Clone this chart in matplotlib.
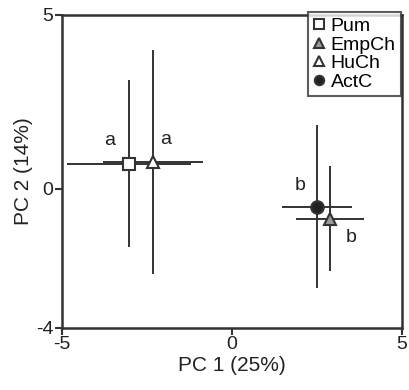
import matplotlib.pyplot as plt

plt.rcParams['font.family'] = ['Liberation Sans', 'DejaVu Sans']
plt.rcParams['axes.unicode_minus'] = False

# group names, PC scores and error ranges
grupos = ["Pum", "EmpCh", "HuCh", "ActC"]
pc1 = [-3.03, 2.88, -2.32, 2.50]
pc2 = [0.72, -0.86, 0.78, -0.52]
err1 = [1.82, 1.00, 1.47, 1.03]
err2 = [2.40, 1.51, 3.22, 2.34]
marcadores = ["s", "^", "^", "o"]
rellenos = ["white", "#9a9a9a", "white", "#222222"]

# significance letters
letras = ["a", "a", "b", "b"]
letras_x = [-3.6, -1.95, 2.0, 3.5]
letras_y = [1.38, 1.42, 0.1, -1.4]

gris = "#333333"
fig = plt.figure(figsize=(4.1, 3.9), dpi=100)
ax = fig.add_axes([0.151, 0.159, 0.829, 0.803])

orden = [0, 2, 3, 1]
for i in orden:
    ax.errorbar(pc1[i], pc2[i], xerr=err1[i], yerr=err2[i], fmt="none",
                ecolor=gris, elinewidth=1.4, capsize=0, zorder=2)
for i in orden:
    ax.plot(pc1[i], pc2[i], marker=marcadores[i], markersize=9,
            markerfacecolor=rellenos[i], markeredgecolor=gris,
            markeredgewidth=1.5, linestyle="none", label=grupos[i], zorder=3)

for t, x, y in zip(letras, letras_x, letras_y):
    ax.text(x, y, t, fontsize=14, ha="center", va="center", color="#222222")

ax.set_xlim(-5, 5)
ax.set_ylim(-4, 5)
ax.set_xticks([-5, 0, 5])
ax.set_yticks([-4, 0, 5])
ax.tick_params(direction="out", length=5, width=1.5, color=gris,
               labelsize=14, labelcolor="#222222", pad=1)
for s in ax.spines.values():
    s.set_linewidth(1.8)
    s.set_color(gris)

ax.set_xlabel("PC 1 (25%)", fontsize=15, color="#222222", labelpad=2)
ax.set_ylabel("PC 2 (14%)", fontsize=15, color="#222222", labelpad=2)

h, l = ax.get_legend_handles_labels()
mapa = dict(zip(l, h))
leg = ax.legend([mapa[g] for g in grupos], grupos, loc="upper right",
                bbox_to_anchor=(0.977, 0.968), bbox_transform=fig.transFigure,
                fontsize=14, frameon=True, fancybox=False, borderpad=0.25,
                labelspacing=0.05, handlelength=0.6, handletextpad=0.3,
                borderaxespad=0, markerscale=0.75)
leg.get_frame().set_edgecolor(gris)
leg.get_frame().set_linewidth(1.5)
leg.set_zorder(5)

plt.savefig("out.png", dpi=100)
